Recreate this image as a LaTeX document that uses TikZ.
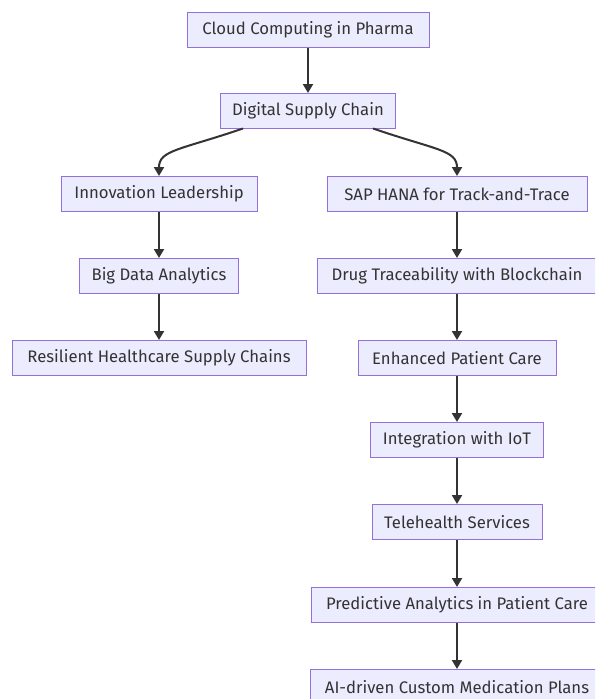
\documentclass[tikz,border=0pt]{standalone}
\usepackage{fontspec}
\setmainfont{Fira Sans}
\usetikzlibrary{arrows.meta}
\definecolor{nodefill}{HTML}{ECECFF}
\definecolor{nodeborder}{HTML}{9370DB}
\definecolor{linkcol}{HTML}{333333}
\tikzset{
  box/.style={draw=nodeborder, fill=nodefill, line width=1pt, inner sep=0pt,
    minimum height=35pt, text=linkcol, font=\fontsize{16.7}{19}\selectfont},
  link/.style={draw=linkcol, line width=2pt, -{Triangle[width=10pt,length=9pt]}},
}
\begin{document}
\begin{tikzpicture}[x=1pt,y=-1pt]
\useasboundingbox (0,0) rectangle (595,699);
\clip (0,0) rectangle (595,699);
\fill[white] (0,0) rectangle (595,699);
\node[box, minimum width=242pt] (cloud) at (308,30) {Cloud Computing in Pharma};
\node[box, minimum width=175pt] (dsc) at (308,111) {Digital Supply Chain};
\node[box, minimum width=196pt] (innov) at (159,194) {Innovation Leadership};
\node[box, minimum width=159pt] (big) at (159,276) {Big Data Analytics};
\node[box, minimum width=294pt] (resil) at (159,358) {Resilient Healthcare Supply Chains};
\node[box, minimum width=260pt] (sap) at (457,194) {SAP HANA for Track-and-Trace};
\node[box, minimum width=280pt] (drug) at (457,276) {Drug Traceability with Blockchain};
\node[box, minimum width=198pt] (enh) at (457,358) {Enhanced Patient Care};
\node[box, minimum width=173pt] (iot) at (457,440) {Integration with IoT};
\node[box, minimum width=170pt] (tele) at (457,522) {Telehealth Services};
\node[box, minimum width=292pt] (pred) at (457,605) {Predictive Analytics in Patient Care};
\node[box, minimum width=294pt] (ai) at (457,687) {AI-driven Custom Medication Plans};
\coordinate (dl) at (243,128.5);
\coordinate (dr) at (373,128.5);
\draw[link] (cloud.south) -- (dsc.north);
\draw[link] (dl) .. controls (180,150) and (159,150) .. (innov.north);
\draw[link] (dr) .. controls (436,150) and (457,150) .. (sap.north);
\draw[link] (innov) -- (big);
\draw[link] (big) -- (resil);
\draw[link] (sap) -- (drug);
\draw[link] (drug) -- (enh);
\draw[link] (enh) -- (iot);
\draw[link] (iot) -- (tele);
\draw[link] (tele) -- (pred);
\draw[link] (pred) -- (ai);
\end{tikzpicture}
\end{document}
